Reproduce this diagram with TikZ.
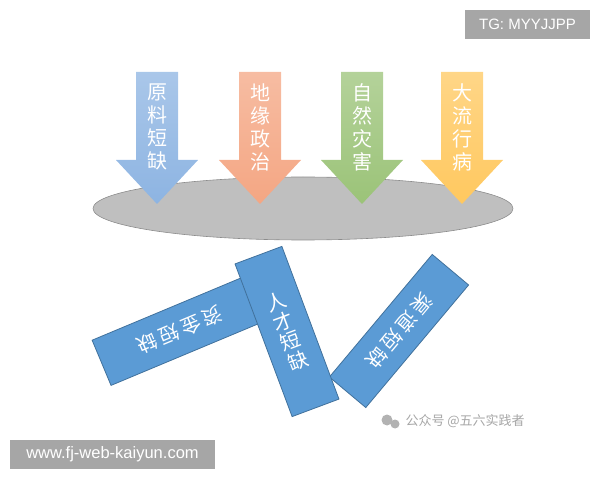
\documentclass[tikz,border=0pt]{standalone}
\usepackage{fontspec}
\setmainfont{Liberation Sans}
\newfontfamily\zh{Noto Sans CJK SC}
\usetikzlibrary{positioning,shapes.geometric}

\definecolor{arrblue}{HTML}{8DB4E2}
\definecolor{arrorange}{HTML}{F4A683}
\definecolor{arrgreen}{HTML}{9BC378}
\definecolor{arryellow}{HTML}{FFC85F}
\definecolor{barblue}{HTML}{5B9BD5}
\definecolor{bardark}{HTML}{41719C}
\definecolor{plategray}{HTML}{BFBFBF}
\definecolor{platerim}{HTML}{8C8C8C}
\definecolor{markgray}{HTML}{A6A6A6}

\tikzset{
  card/.style={draw=bardark, line width=0.8pt, fill=barblue, text=white,
    font=\zh\fontsize{20}{21}\selectfont, inner sep=0pt, align=center},
  tag/.style={fill=markgray, text=white, inner sep=0pt},
  arrlabel/.style={text=white, font=\zh\fontsize{20}{23}\selectfont, align=center, inner sep=0pt}
}

\begin{document}
\begin{tikzpicture}[x=1pt,y=1pt]
        \useasboundingbox (0,0) rectangle (600,480);
        % the plate
        \node[ellipse, draw=platerim, fill=plategray, line width=0.6pt,
          minimum width=420, minimum height=63] (plate) at (303,271.5) {};
        % four arrows on the plate
        \foreach \cx/\col/\txt [count=\i] in {157/arrblue/{原\\料\\短\\缺}, 260/arrorange/{地\\缘\\政\\治},
            362/arrgreen/{自\\然\\灾\\害}, 462/arryellow/{大\\流\\行\\病}} {
          \shade[top color=\col!75!white, bottom color=\col]
            (\cx-21,408) -- (\cx+21,408) -- (\cx+21,320) -- (\cx+41,320) -- (\cx,276)
            -- (\cx-41,320) -- (\cx-21,320) -- cycle;
          \node[arrlabel] (arr\i) at (\cx,353) {\txt};
        }
        % the fallen bars
        \node[card, minimum width=170, minimum height=49, rotate=202.7] (fund) at (180,150) {资\,金\,短\,缺};
        \node[card, minimum width=160, minimum height=47.5, rotate=230] (channel) at (399,149) {渠\,道\,短\,缺};
        \node[card, minimum width=50, minimum height=163, rotate=20.5] (talent) at (287,148.5) {人\\才\\短\\缺};
        % watermarks
        \fill[black!30] (387,60) circle (5.5);
        \fill[black!30] (395,56) circle (4.5);
        \node[text=black!35, font=\zh\fontsize{13}{13}\selectfont, anchor=west] (wechat) at (402,59) {公众号 @五六实践者};
        \node[tag, minimum width=125, minimum height=29, font=\fontsize{15}{15}\selectfont] (tg) at (527.5,455.5) {TG: MYYJJPP};
        \node[tag, minimum width=205, minimum height=29, font=\fontsize{16.5}{16.5}\selectfont] (site) at (112.5,25.5) {www.fj-web-kaiyun.com};
      \end{tikzpicture}
\end{document}
